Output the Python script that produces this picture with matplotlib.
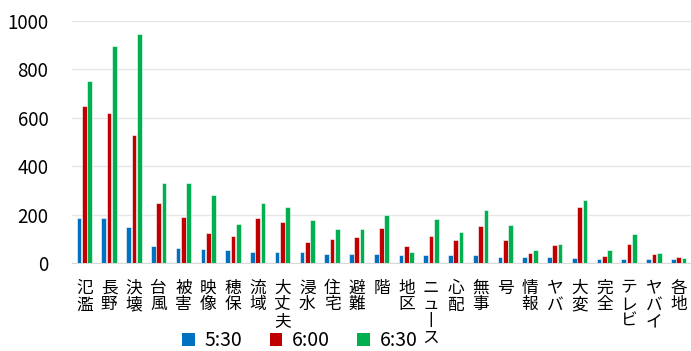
import numpy as np
import matplotlib
matplotlib.use("Agg")
import matplotlib.pyplot as plt
from matplotlib.patches import Patch

plt.rcParams['font.family'] = ['Noto Sans CJK JP', 'DejaVu Sans']

words = ["氾濫", "長野", "決壊", "台風", "被害", "映像", "穂保", "流域", "大丈夫",
         "浸水", "住宅", "避難", "階", "地区", "ニュース", "心配", "無事", "号",
         "情報", "ヤバ", "大変", "完全", "テレビ", "ヤバイ", "各地"]
t0530 = [187, 186, 150, 69, 61, 58, 54, 45, 45, 45, 39, 36, 36, 34, 33, 33, 33,
         26, 23, 23, 22, 18, 18, 17, 15]
t0600 = [650, 618, 530, 249, 189, 125, 113, 186, 169, 87, 101, 107, 145, 72, 112,
         96, 152, 96, 40, 73, 233, 29, 79, 36, 26]
t0630 = [753, 897, 946, 332, 329, 282, 160, 247, 233, 179, 140, 140, 200, 47, 183,
         129, 220, 158, 55, 80, 262, 52, 121, 41, 21]
series = ["5:30", "6:00", "6:30"]
colors = ["#0070C0", "#C00000", "#00B050"]


def vertical(word):
    # stack characters top to bottom, long vowel mark turned upright
    return "\n".join("丨" if c == "ー" else c for c in word)


fig = plt.figure(figsize=(6.91, 3.51), dpi=100)
ax = fig.add_axes([72 / 691, 1 - 263 / 351, 1 - 72 / 691, 242 / 351])

x = np.arange(len(words))
w = 0.19
step = 0.215
for i, (vals, col) in enumerate(zip([t0530, t0600, t0630], colors)):
    ax.bar(x + (i - 1) * step, vals, width=w, color=col,
           edgecolor="white", linewidth=0.4, zorder=3)

ax.set_xlim(-0.5, len(words) - 0.5)
ax.set_ylim(0, 1000)
ax.set_yticks(range(0, 1001, 200))
ax.grid(axis="y", color="#E6E6E6", linewidth=1, zorder=0)
for s in ["top", "right", "left"]:
    ax.spines[s].set_visible(False)
ax.spines["bottom"].set_color("#D9D9D9")
ax.tick_params(axis="y", length=0, pad=17, labelsize=13.5)
ax.tick_params(axis="x", length=0, pad=12)
ax.set_xticks(x)
ax.set_xticklabels([vertical(wd) for wd in words], fontsize=12,
                   linespacing=0.98, va="top")

handles = [Patch(facecolor=c, label=s) for c, s in zip(colors, series)]
fig.legend(handles=handles, loc="center", bbox_to_anchor=(300 / 691, 1 - 341 / 351),
           ncol=3, frameon=False, fontsize=14, handlelength=0.65, handleheight=0.65,
           handletextpad=0.5, columnspacing=1.4, borderpad=0)

fig.savefig("out.png", dpi=100)
